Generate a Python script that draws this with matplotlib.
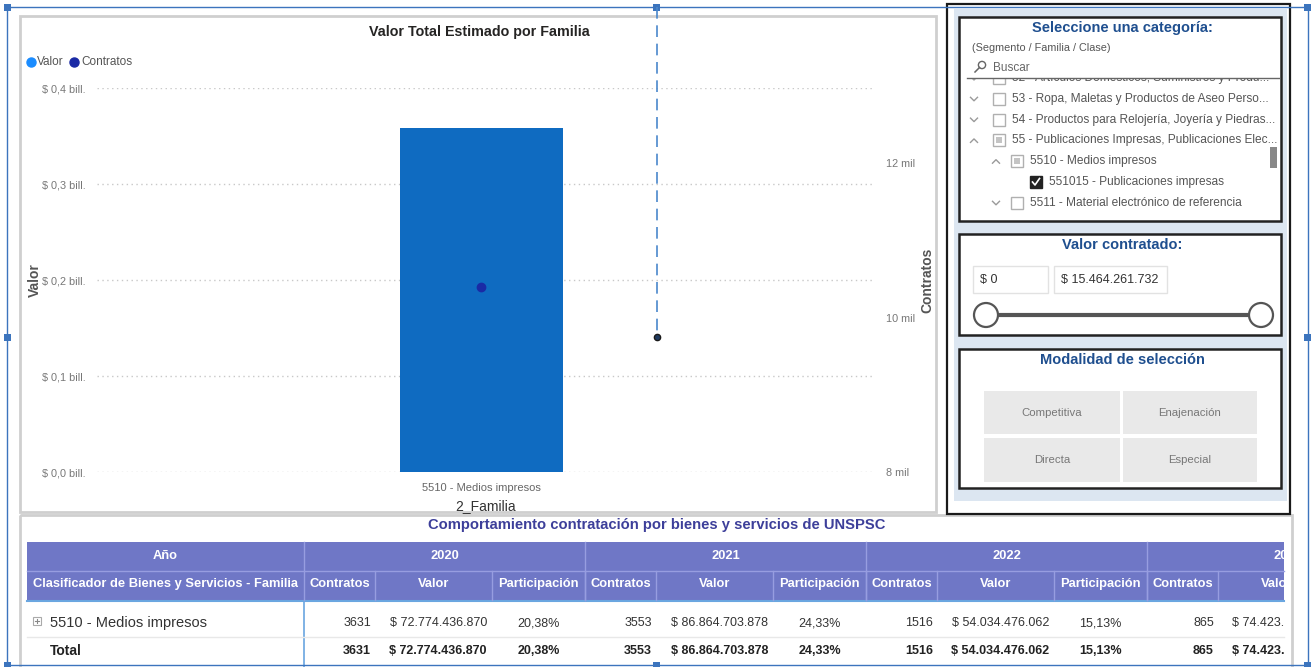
"""
Recreacion del tablero 'Valor Total Estimado por Familia' (Power BI) con matplotlib.
Salida: out.png (1315x667)
"""
import matplotlib.pyplot as plt
from matplotlib.patches import Rectangle, Circle
from matplotlib.lines import Line2D

# --- Datos del grafico ---
categorias = ["5510 - Medios impresos"]
valor_total = [0.358e12]          # pesos (bill. = 10^12)
contratos_total = [10390]
y_ticks_valor = [0.0e12, 0.1e12, 0.2e12, 0.3e12, 0.4e12]
y_ticks_contratos = [8000, 10000, 12000]

# --- Datos de la tabla ---
anios = ["2020", "2021", "2022", "2023"]
contratos_anio = [3631, 3553, 1516, 865]
valor_anio = [72774436870, 86864703878, 54034476062, 74423900000]
particip_anio = [20.38, 24.33, 15.13, None]
subcolumnas = ["Contratos", "Valor", "Participación"]
familia_tabla = "5510 - Medios impresos"

# --- Segmentadores ---
slicer_items = ["52 - Artículos Domésticos, Suministros y Produ...",
                "53 - Ropa, Maletas y Productos de Aseo Perso...",
                "54 - Productos para Relojería, Joyería y Piedras...",
                "55 - Publicaciones Impresas, Publicaciones Elec...",
                "5510 - Medios impresos",
                "551015 - Publicaciones impresas",
                "5511 - Material electrónico de referencia"]
slicer_nivel = [0, 0, 0, 0, 1, 2, 1]
slicer_estado = ["vacio", "vacio", "vacio", "parcial", "parcial", "marcado", "vacio"]
slicer_flecha = ["v", "v", "v", "^", "^", "", "v"]
rango_valor = ["$ 0", "$ 15.464.261.732"]
modalidades = ["Competitiva", "Enajenación", "Directa", "Especial"]

W, H = 1315, 667
FUENTE = ["Liberation Sans", "DejaVu Sans"]


def pesos(v):
    return "$ " + f"{v:,.0f}".replace(",", ".")


def pct(p):
    return f"{p:.2f}%".replace(".", ",")


def px_box(x0, y0, x1, y1):
    return [x0 / W, 1 - y1 / H, (x1 - x0) / W, (y1 - y0) / H]


fig = plt.figure(figsize=(W / 100, H / 100), dpi=100)
fig.patch.set_facecolor("white")

# fondo en pixeles (y hacia abajo)
bg = fig.add_axes([0, 0, 1, 1], zorder=0)
bg.set_xlim(0, W)
bg.set_ylim(H, 0)
bg.axis("off")


def rect(x0, y0, x1, y1, **kw):
    r = Rectangle((x0, y0), x1 - x0, y1 - y0, **kw)
    bg.add_patch(r)
    return r


def clip_rect(x0, y0, x1, y1):
    return Rectangle((x0, y0), x1 - x0, y1 - y0, transform=bg.transData)


# --- paneles ---
rect(20, 16, 936, 512, fill=False, ec="#cfcfcf", lw=2)
rect(20, 515, 1292, 670, fill=False, ec="#cfcfcf", lw=2)

# panel derecho
rect(947, 4, 1290, 514, fc="white", ec="#1a1a1a", lw=1.6)
rect(954, 9, 1287, 501, fc="#dce6f1", ec="none")
titulo_slicer = dict(ha="center", va="center", fontsize=10.5, fontweight="bold",
                     color="#1f4f8f", family=FUENTE)

# segmentador de categoria
rect(959, 17, 1281, 221, fc="white", ec="#222222", lw=1.8)
bg.text(1122, 28, "Seleccione una categoría:", **titulo_slicer)
bg.text(972, 48, "(Segmento / Familia / Clase)", fontsize=7.8, color="#555555",
        family=FUENTE, va="center")
bg.add_patch(Circle((982, 65), 3.6, fill=False, ec="#666666", lw=1))
bg.add_line(Line2D([979.5, 975], [67.5, 72], color="#666666", lw=1.1))
bg.text(993, 68, "Buscar", fontsize=8.5, color="#666666", family=FUENTE, va="center")
bg.add_line(Line2D([967, 1279], [78, 78], color="#666666", lw=1))

clip_lista = clip_rect(960, 79, 1280, 220)
fila_y0, fila_paso = 78, 20.8
for i, (txt, nivel, estado, flecha) in enumerate(
        zip(slicer_items, slicer_nivel, slicer_estado, slicer_flecha)):
    y = fila_y0 + i * fila_paso
    xf = 974 + nivel * 22
    xc = 993 + nivel * 18.5
    if nivel == 2:
        xc = 1030
    arts = []
    if flecha == "v":
        arts.append(Line2D([xf - 3.5, xf, xf + 3.5], [y - 1.5, y + 2, y - 1.5],
                           color="#9a9a9a", lw=1))
    elif flecha == "^":
        arts.append(Line2D([xf - 3.5, xf, xf + 3.5], [y + 2, y - 1.5, y + 2],
                           color="#9a9a9a", lw=1))
    if estado == "marcado":
        arts.append(Rectangle((xc, y - 6), 12, 12, fc="#222222", ec="#222222", lw=1))
        arts.append(Line2D([xc + 2.5, xc + 5, xc + 9.5], [y, y + 3, y - 3.5],
                           color="white", lw=1.2))
    else:
        arts.append(Rectangle((xc, y - 6), 12, 12, fc="white", ec="#b0b0b0", lw=1))
        if estado == "parcial":
            arts.append(Rectangle((xc + 3, y - 3), 6, 6, fc="#c4c4c4", ec="none"))
    for a in arts:
        if isinstance(a, Line2D):
            bg.add_line(a)
        else:
            bg.add_patch(a)
        a.set_clip_path(clip_lista)
    t = bg.text(xc + 19, y, txt, fontsize=8.6, color="#555555", family=FUENTE,
                va="center", clip_on=True)
    t.set_clip_path(clip_lista)
rect(1270, 147, 1277, 168, fc="#888888", ec="none")

# segmentador de valor
rect(959, 234, 1281, 335, fc="white", ec="#222222", lw=1.8)
bg.text(1122, 245, "Valor contratado:", **titulo_slicer)
for (x0, x1), txt in zip([(973, 1048), (1054, 1167)], rango_valor):
    rect(x0, 266, x1, 293, fc="white", ec="#e2e2e2", lw=1)
    bg.text(x0 + 7, 280, txt, fontsize=9, color="#333333", family=FUENTE, va="center")
bg.add_line(Line2D([986, 1261], [315, 315], color="#555555", lw=3))
for cx in (986, 1261):
    bg.add_patch(Circle((cx, 315), 12, fc="white", ec="#555555", lw=1.6, zorder=3))

# segmentador de modalidad
rect(959, 349, 1281, 488, fc="white", ec="#222222", lw=1.8)
bg.text(1122, 360, "Modalidad de selección", **titulo_slicer)
botones = [(984, 391, 1120, 434), (1123, 391, 1257, 434),
           (984, 438, 1120, 482), (1123, 438, 1257, 482)]
for (x0, y0, x1, y1), txt in zip(botones, modalidades):
    rect(x0, y0, x1, y1, fc="#e9e9e9", ec="none")
    bg.text((x0 + x1) / 2, (y0 + y1) / 2, txt, fontsize=8.2, color="#777777",
            family=FUENTE, ha="center", va="center")

# --- grafico combinado ---
ax = fig.add_axes(px_box(97, 88, 875, 472), zorder=2)
ax.patch.set_alpha(0)
ax.bar(categorias, valor_total, width=163 / 778, color="#0f6bc1", zorder=2)
ax.set_xlim(-0.4942, 0.5058)
ax.set_ylim(0, 0.4e12)
ax.set_yticks(y_ticks_valor)
ax.set_yticklabels([f"$ {v / 1e12:.1f} bill.".replace(".", ",", 1) for v in y_ticks_valor])
ax.yaxis.grid(True, linestyle=(0, (1, 2.5)), color="#c8c8c8", lw=1)
ax.set_axisbelow(True)
for s in ax.spines.values():
    s.set_visible(False)
ax.tick_params(axis="both", length=0, labelsize=7.8, labelcolor="#777777")
ax.tick_params(axis="y", pad=8)
ax.tick_params(axis="x", pad=8, labelcolor="#666666", labelsize=8)
for lab in ax.get_xticklabels() + ax.get_yticklabels():
    lab.set_family(FUENTE)
ax.set_xlabel("2_Familia", fontsize=10, color="#333333", family=FUENTE, labelpad=4)
ax.set_ylabel("Valor", fontsize=10, fontweight="bold", color="#555555", family=FUENTE)
ax.yaxis.set_label_coords(-0.0707, 0.5)

ax2 = ax.twinx()
ax2.plot(categorias, contratos_total, "o", color="#1a2aa5", ms=6)
ax2.set_ylim(8000, 8000 + 384 * 2000 / 154.5)
ax2.set_yticks(y_ticks_contratos)
ax2.set_yticklabels([f"{v // 1000} mil" for v in y_ticks_contratos])
for s in ax2.spines.values():
    s.set_visible(False)
ax2.tick_params(axis="y", length=0, pad=8, labelsize=7.8, labelcolor="#777777")
for lab in ax2.get_yticklabels():
    lab.set_family(FUENTE)
ax2.set_ylabel("Contratos", fontsize=10, fontweight="bold", color="#555555", family=FUENTE)
ax2.yaxis.set_label_coords(1.058, 0.5)

bg.text(479, 32, "Valor Total Estimado por Familia", fontsize=10.3, fontweight="bold",
        color="#252423", family=FUENTE, ha="center", va="center")
bg.plot([31], [62], "o", color="#1a8cff", ms=6.5)
bg.text(37, 62, "Valor", fontsize=8.5, color="#555555", family=FUENTE, va="center")
bg.plot([74], [62], "o", color="#1a2aa5", ms=6.5)
bg.text(81, 62, "Contratos", fontsize=8.5, color="#555555", family=FUENTE, va="center")

# --- tabla ---
bg.text(657, 525, "Comportamiento contratación por bienes y servicios de UNSPSC",
        fontsize=10.6, fontweight="bold", color="#3d3f9a", family=FUENTE,
        ha="center", va="center")
X0, X_FIN, X_FAM = 27, 1284, 304
anchos = [71, 117, 93]
clip_tabla = clip_rect(X0, 540, X_FIN, H)
rect(X0, 542, X_FIN, 600, fc="#6f77c6", ec="none")
bg.add_line(Line2D([X0, X_FIN], [571, 571], color="#979de0", lw=1))
bg.add_line(Line2D([X0, X_FIN], [601, 601], color="#6aa6e0", lw=1.5))
bg.add_line(Line2D([X_FAM, X_FAM], [601, 667], color="#6aa6e0", lw=1.2))
bg.add_line(Line2D([X0, X_FIN], [637, 637], color="#e8e8e8", lw=1))
encab = dict(fontsize=9.3, fontweight="bold", color="white", family=FUENTE,
             ha="center", va="center", clip_on=True)
bg.text((X0 + X_FAM) / 2, 556, "Año", **encab)
bg.text((X0 + X_FAM) / 2, 584, "Clasificador de Bienes y Servicios - Familia", **encab)
bg.add_line(Line2D([X_FAM, X_FAM], [542, 600], color="#979de0", lw=1))

# icono de expandir
rect(33, 617, 41, 625, fc="white", ec="#aaaaaa", lw=0.8)
bg.add_line(Line2D([35, 39], [621, 621], color="#888888", lw=0.8))
bg.add_line(Line2D([37, 37], [619, 623], color="#888888", lw=0.8))
bg.text(50, 623, familia_tabla, fontsize=10.5, color="#333333", family=FUENTE, va="center")
bg.text(50, 651, "Total", fontsize=10, fontweight="bold", color="#222222",
        family=FUENTE, va="center")

x = X_FAM
for anio, c, v, p in zip(anios, contratos_anio, valor_anio, particip_anio):
    x_ini = x
    bounds = []
    for w in anchos:
        bounds.append((x, x + w))
        x += w
    arts = [bg.text((x_ini + x) / 2, 556, anio, **encab)]
    if x < X_FIN:
        arts.append(bg.add_line(Line2D([x, x], [542, 600], color="#979de0", lw=1)))
    for (a, b), nombre in zip(bounds, subcolumnas):
        if a >= X_FIN:
            continue  # columna fuera de la vista
        arts.append(bg.text((a + b) / 2, 584, nombre, **encab))
        if b < X_FIN:
            arts.append(bg.add_line(Line2D([b, b], [571, 600], color="#979de0", lw=1)))
    for y, peso in ((623, "normal"), (651, "bold")):
        col = "#333333" if peso == "normal" else "#222222"
        kw = dict(fontsize=9, fontweight=peso, color=col, family=FUENTE,
                  va="center", clip_on=True)
        arts.append(bg.text(bounds[0][1] - 4, y, str(c), ha="right", **kw))
        arts.append(bg.text(bounds[1][1] - 5, y, pesos(v), ha="right", **kw))
        if p is not None:
            arts.append(bg.text(sum(bounds[2]) / 2, y, pct(p), ha="center", **kw))
    for a in arts:
        a.set_clip_path(clip_tabla)

# --- marco de seleccion ---
ov = fig.add_axes([0, 0, 1, 1], zorder=10)
ov.set_xlim(0, W)
ov.set_ylim(H, 0)
ov.axis("off")
ov.patch.set_alpha(0)
azul = "#3c74bd"
ov.add_patch(Rectangle((7.5, 7), 1300.5, 658, fill=False, ec=azul, lw=1))
ov.add_line(Line2D([657, 657], [7, 337], color="#4a88cc", lw=1.2, ls=(0, (7, 4))))
ov.plot([657], [337], "o", color="#1a1a1a", ms=4.5, mfc="#1f3a5f", mew=1)
for hx, hy in [(7.5, 7), (657, 7), (1308, 7), (7.5, 337), (1308, 337),
               (7.5, 665), (657, 665), (1308, 665)]:
    ov.add_patch(Rectangle((hx - 3.5, hy - 3.5), 7, 7, fc=azul, ec="none"))

fig.savefig("out.png", dpi=100)
